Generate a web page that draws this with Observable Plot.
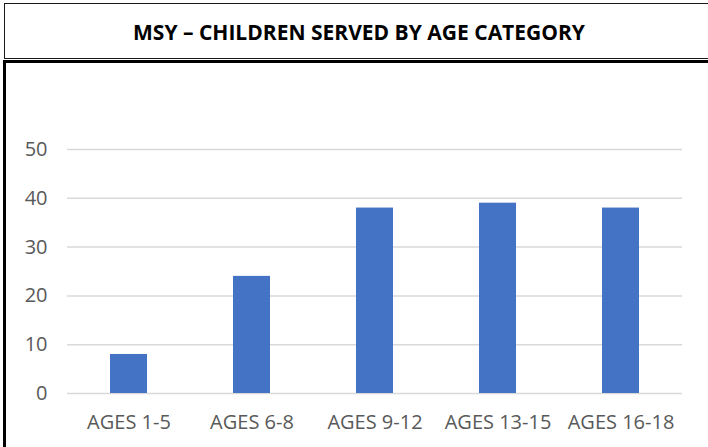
<!DOCTYPE html>
<html>
<head>
<meta charset="utf-8">
<script src="https://cdn.jsdelivr.net/npm/d3@7"></script>
<script src="https://cdn.jsdelivr.net/npm/@observablehq/plot@0.6"></script>
<style>
  html, body { margin: 0; padding: 0; background: #fff; }
  body { width: 708px; height: 447px; position: relative; overflow: hidden; }
  #titlebox { position: absolute; left: 4px; top: 3px; width: 740px; height: 54px;
    border: 1.5px solid #1a1a1a; box-sizing: content-box; }
  #title { position: absolute; top: 19px; left: 359px; white-space: nowrap;
    font-family: "Open Sans", sans-serif; font-weight: 700; font-size: 21px; line-height: 26px; color: #000;
    transform-origin: 0 0; }
  #chartbox { position: absolute; left: 3px; top: 60px; width: 760px; height: 420px;
    border-left: 3px solid #000; border-top: 3px solid #000; }
  #plot { position: absolute; left: 0; top: 64px; }
</style>
</head>
<body>
<div id="titlebox"></div>
<div id="title">MSY – CHILDREN SERVED BY AGE CATEGORY</div>
<div id="chartbox"></div>
<div id="plot"></div>
<script>
const categories = ["AGES 1-5", "AGES 6-8", "AGES 9-12", "AGES 13-15", "AGES 16-18"];
const values = [8, 24, 38, 39, 38];
const yTicks = [0, 10, 20, 30, 40, 50];

const data = categories.map((c, i) => ({category: c, value: values[i]}));

const chart = Plot.plot({
  width: 708,
  height: 383,
  marginTop: 85,
  marginBottom: 54,
  marginLeft: 67,
  marginRight: 26,
  style: {fontFamily: "'Open Sans', sans-serif", fontSize: "20px", color: "#595959", background: "transparent"},
  x: {domain: categories, paddingInner: 0.7, paddingOuter: 0.35, label: null},
  y: {domain: [0, 50], ticks: yTicks, label: null},
  marks: [
    Plot.ruleY(yTicks, {stroke: "#d9d9d9", strokeWidth: 1.5}),
    Plot.barY(data, {x: "category", y: "value", fill: "#4472C4"}),
    Plot.axisX({tickSize: 0, tickPadding: 21, fontSize: 20, label: null}),
    Plot.axisY({ticks: yTicks, tickSize: 0, tickPadding: 20, fontSize: 20, label: null})
  ]
});
document.getElementById("plot").appendChild(chart);

// fit title to the reference's width (condensed bold face)
const t = document.getElementById("title");
const w = t.getBoundingClientRect().width;
const target = 452;
const s = target / w;
t.style.transform = `translateX(${-target / 2}px) scaleX(${s})`;
</script>
</body>
</html>
